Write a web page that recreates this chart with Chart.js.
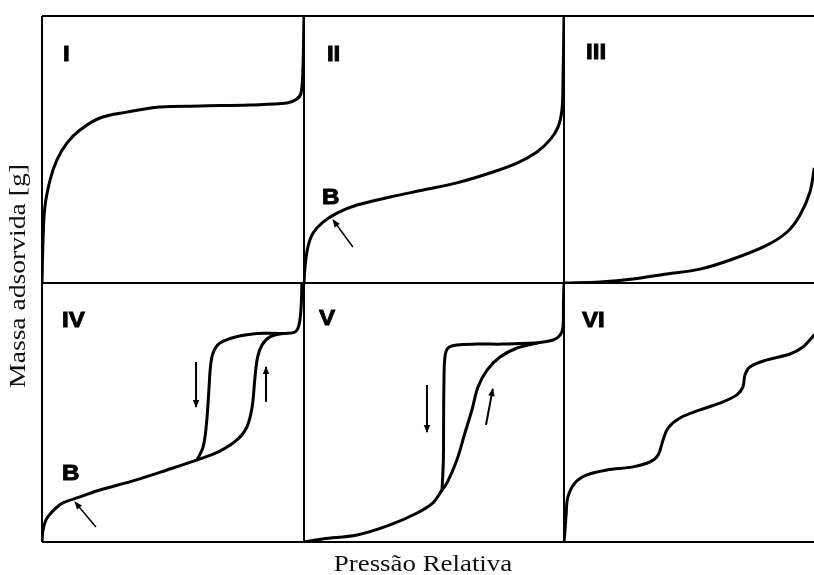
<!DOCTYPE html>
<html>
<head>
<meta charset="utf-8">
<script src="https://cdn.jsdelivr.net/npm/chart.js@4"></script>
<style>
  html, body { margin: 0; padding: 0; background: #fff; overflow: hidden; }
  #wrap { position: absolute; left: 0; top: 0; width: 830px; height: 575px; }
</style>
</head>
<body>
<div id="wrap"><canvas id="iso" width="830" height="575"></canvas></div>
<script>
// Adsorption isotherm types (IUPAC). Each panel: relative pressure (0..1) vs adsorbed amount (0..1).
const panelNames = ['I', 'II', 'III', 'IV', 'V', 'VI'];
const xAxisTitle = 'Pressão Relativa';
const yAxisTitle = 'Massa adsorvida [g]';

// Type I
const typeI_x = [0, 0.004, 0.011, 0.031, 0.057, 0.095, 0.145, 0.221, 0.324, 0.450, 0.603, 0.794, 0.935, 0.973, 0.989, 0.996, 1.0];
const typeI_y = [0, 0.161, 0.285, 0.386, 0.461, 0.524, 0.573, 0.618, 0.640, 0.659, 0.663, 0.667, 0.674, 0.689, 0.712, 0.809, 1.0];

// Type II
const typeII_x = [0, 0.004, 0.015, 0.035, 0.073, 0.127, 0.204, 0.331, 0.458, 0.588, 0.715, 0.819, 0.896, 0.946, 0.977, 0.992, 0.996, 1.0];
const typeII_y = [0, 0.060, 0.135, 0.187, 0.228, 0.262, 0.292, 0.322, 0.348, 0.375, 0.412, 0.449, 0.491, 0.536, 0.584, 0.648, 0.749, 1.0];

// Type III
const typeIII_x = [0, 0.138, 0.265, 0.396, 0.523, 0.650, 0.781, 0.858, 0.908, 0.946, 0.962];
const typeIII_y = [0, 0.004, 0.015, 0.034, 0.052, 0.090, 0.142, 0.191, 0.255, 0.341, 0.427];

// Type IV: adsorption branch and desorption branch (hysteresis loop)
const typeIVads_x = [0, 0.004, 0.015, 0.031, 0.053, 0.080, 0.145, 0.221, 0.347, 0.477, 0.592, 0.679, 0.744, 0.782, 0.802, 0.813, 0.823, 0.840, 0.870, 0.920, 0.966, 0.981, 0.989, 0.992];
const typeIVads_y = [0, 0.046, 0.085, 0.108, 0.131, 0.151, 0.174, 0.201, 0.236, 0.278, 0.317, 0.351, 0.394, 0.444, 0.521, 0.637, 0.714, 0.761, 0.792, 0.805, 0.811, 0.838, 0.907, 1.0];
const typeIVdes_x = [0.920, 0.870, 0.821, 0.744, 0.679, 0.653, 0.643, 0.637, 0.628, 0.615, 0.592];
const typeIVdes_y = [0.805, 0.806, 0.805, 0.793, 0.768, 0.730, 0.676, 0.587, 0.459, 0.367, 0.317];

// Type V: adsorption branch and desorption branch
const typeVads_x = [0, 0.073, 0.204, 0.331, 0.435, 0.496, 0.531, 0.550, 0.588, 0.619, 0.646, 0.669, 0.704, 0.754, 0.819, 0.896, 0.958, 0.985, 0.996, 0.998, 1.0];
const typeVads_y = [0, 0.012, 0.027, 0.066, 0.112, 0.151, 0.201, 0.228, 0.317, 0.421, 0.510, 0.598, 0.664, 0.714, 0.749, 0.768, 0.780, 0.799, 0.830, 0.934, 1.0];
const typeVdes_x = [0.896, 0.831, 0.765, 0.665, 0.588, 0.554, 0.542, 0.538, 0.537, 0.536, 0.531];
const typeVdes_y = [0.768, 0.766, 0.764, 0.764, 0.761, 0.749, 0.714, 0.598, 0.471, 0.317, 0.201];

// Type VI (stepwise)
const typeVI_x = [0, 0.004, 0.008, 0.015, 0.042, 0.088, 0.165, 0.265, 0.331, 0.362, 0.381, 0.400, 0.446, 0.523, 0.612, 0.665, 0.688, 0.696, 0.715, 0.781, 0.869, 0.919, 0.962];
const typeVI_y = [0, 0.046, 0.104, 0.174, 0.228, 0.259, 0.278, 0.290, 0.309, 0.336, 0.394, 0.440, 0.479, 0.510, 0.541, 0.568, 0.598, 0.645, 0.676, 0.703, 0.726, 0.753, 0.799];

// Pointer arrows (tail -> head)
const arrowII_B_x = [0.188, 0.112];
const arrowII_B_y = [0.135, 0.236];
const arrowIV_B_x = [0.206, 0.126];
const arrowIV_B_y = [0.058, 0.154];
const arrowIVdes_x = [0.588, 0.588];
const arrowIVdes_y = [0.695, 0.521];
const arrowIVads_x = [0.855, 0.855];
const arrowIVads_y = [0.541, 0.676];
const arrowVdes_x = [0.473, 0.473];
const arrowVdes_y = [0.606, 0.425];
const arrowVads_x = [0.700, 0.726];
const arrowVads_y = [0.452, 0.591];

// Text tags placed in panel coordinates
const panelTags = [
  { text: panelNames[0], x: 0.080, y: 0.831, xAxis: 'x1', yAxis: 'yTop' },
  { text: panelNames[1], x: 0.088, y: 0.831, xAxis: 'x2', yAxis: 'yTop' },
  { text: panelNames[2], x: 0.085, y: 0.839, xAxis: 'x3', yAxis: 'yTop' },
  { text: panelNames[3], x: 0.076, y: 0.830, xAxis: 'x1', yAxis: 'yBot' },
  { text: panelNames[4], x: 0.058, y: 0.838, xAxis: 'x2', yAxis: 'yBot' },
  { text: panelNames[5], x: 0.069, y: 0.830, xAxis: 'x3', yAxis: 'yBot' },
  { text: 'B', x: 0.069, y: 0.296, xAxis: 'x2', yAxis: 'yTop' },
  { text: 'B', x: 0.076, y: 0.239, xAxis: 'x1', yAxis: 'yBot' }
];

const pts = (xs, ys) => xs.map((x, i) => ({ x: x, y: ys[i] }));

function curve(label, xs, ys, xAxis, yAxis) {
  return {
    label: label, data: pts(xs, ys), xAxisID: xAxis, yAxisID: yAxis,
    borderColor: '#000', borderWidth: 3, pointRadius: 0, tension: 0.35,
    borderCapStyle: 'round', borderJoinStyle: 'round', fill: false
  };
}
function arrow(label, xs, ys, xAxis, yAxis, w) {
  return {
    label: label, data: pts(xs, ys), xAxisID: xAxis, yAxisID: yAxis,
    borderColor: '#000', borderWidth: w, pointRadius: 0, tension: 0,
    fill: false, arrowHead: true, clip: false
  };
}

const datasets = [
  curve('I', typeI_x, typeI_y, 'x1', 'yTop'),
  curve('II', typeII_x, typeII_y, 'x2', 'yTop'),
  curve('III', typeIII_x, typeIII_y, 'x3', 'yTop'),
  curve('IV adsorção', typeIVads_x, typeIVads_y, 'x1', 'yBot'),
  curve('IV dessorção', typeIVdes_x, typeIVdes_y, 'x1', 'yBot'),
  curve('V adsorção', typeVads_x, typeVads_y, 'x2', 'yBot'),
  curve('V dessorção', typeVdes_x, typeVdes_y, 'x2', 'yBot'),
  curve('VI', typeVI_x, typeVI_y, 'x3', 'yBot'),
  arrow('B (II)', arrowII_B_x, arrowII_B_y, 'x2', 'yTop', 1.5),
  arrow('B (IV)', arrowIV_B_x, arrowIV_B_y, 'x1', 'yBot', 1.5),
  arrow('IV des', arrowIVdes_x, arrowIVdes_y, 'x1', 'yBot', 2),
  arrow('IV ads', arrowIVads_x, arrowIVads_y, 'x1', 'yBot', 2),
  arrow('V des', arrowVdes_x, arrowVdes_y, 'x2', 'yBot', 2),
  arrow('V ads', arrowVads_x, arrowVads_y, 'x2', 'yBot', 2)
];

// Frame and panel dividers come from grid lines at the 0 and 1 ticks of every axis
const gridStyle = { display: true, color: '#000', lineWidth: 2, drawTicks: false, drawOnChartArea: true };
function xScale(weight, stackWeight) {
  return {
    type: 'linear', position: 'bottom', stack: 'cols', stackWeight: stackWeight, weight: weight,
    min: 0, max: 1, ticks: { display: false, stepSize: 1 }, grid: gridStyle, border: { display: false }
  };
}
function yScale(weight, stackWeight) {
  return {
    type: 'linear', position: 'left', stack: 'rows', stackWeight: stackWeight, weight: weight,
    min: 0, max: 1, ticks: { display: false, stepSize: 1 }, grid: gridStyle, border: { display: false }
  };
}

const arrowHeads = {
  id: 'arrowHeads',
  afterDatasetsDraw(chart) {
    const ctx = chart.ctx;
    chart.data.datasets.forEach((ds, i) => {
      if (!ds.arrowHead) return;
      const p = chart.getDatasetMeta(i).data;
      const a = p[p.length - 2], b = p[p.length - 1];
      const ang = Math.atan2(b.y - a.y, b.x - a.x);
      ctx.save();
      ctx.translate(b.x, b.y);
      ctx.rotate(ang);
      ctx.beginPath();
      ctx.moveTo(1, 0);
      ctx.lineTo(-7, -3.2);
      ctx.lineTo(-7, 3.2);
      ctx.closePath();
      ctx.fillStyle = '#000';
      ctx.fill();
      ctx.restore();
    });
  }
};

const textLayer = {
  id: 'textLayer',
  afterDraw(chart) {
    const ctx = chart.ctx;
    const area = chart.chartArea;
    ctx.save();
    ctx.fillStyle = '#000';
    ctx.strokeStyle = '#000';
    ctx.lineWidth = 0.9;
    ctx.textBaseline = 'alphabetic';
    ctx.textAlign = 'left';
    ctx.font = 'bold 22px "Liberation Sans", Arial, sans-serif';
    panelTags.forEach(t => {
      const px = chart.scales[t.xAxis].getPixelForValue(t.x);
      const py = chart.scales[t.yAxis].getPixelForValue(t.y);
      ctx.save();
      ctx.translate(px, py);
      ctx.scale(1.1, 1);
      ctx.fillText(t.text, 0, 0);
      ctx.strokeText(t.text, 0, 0);
      ctx.restore();
    });
    ctx.restore();

    // Axis titles
    ctx.save();
    ctx.fillStyle = '#111';
    ctx.textAlign = 'center';
    ctx.textBaseline = 'alphabetic';
    ctx.font = '24px "Liberation Serif", "Times New Roman", serif';
    ctx.save();
    ctx.translate(423, area.bottom + 29);
    ctx.scale(1.12, 1);
    ctx.fillText(xAxisTitle, 0, 0);
    ctx.restore();
    ctx.font = '23px "Liberation Serif", "Times New Roman", serif';
    ctx.save();
    ctx.translate(area.left - 17, (area.top + area.bottom) / 2 - 3);
    ctx.rotate(-Math.PI / 2);
    ctx.scale(1.2, 1);
    ctx.fillText(yAxisTitle, 0, 0);
    ctx.restore();
    ctx.restore();
  }
};

new Chart(document.getElementById('iso'), {
  type: 'line',
  data: { datasets: datasets },
  options: {
    responsive: false,
    animation: false,
    events: [],
    layout: { padding: { left: 42, top: 16, right: 6, bottom: 33 } },
    plugins: { legend: { display: false }, tooltip: { enabled: false } },
    scales: {
      x1: xScale(1, 262),
      x2: xScale(2, 260),
      x3: xScale(3, 260),
      yTop: yScale(2, 267),
      yBot: yScale(1, 259)
    }
  },
  plugins: [arrowHeads, textLayer]
});
</script>
</body>
</html>
